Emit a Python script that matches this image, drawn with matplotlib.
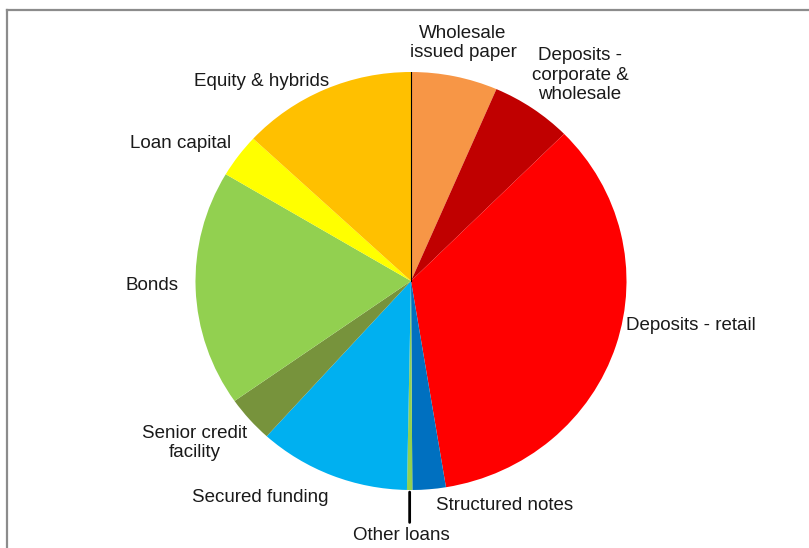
import matplotlib.pyplot as plt
import numpy as np
from matplotlib.lines import Line2D

plt.rcParams['font.family'] = ['Liberation Sans', 'DejaVu Sans']

# funding mix, % of total, clockwise from 12 o'clock
sources = ['Wholesale\nissued paper', 'Deposits -\ncorporate &\nwholesale', 'Deposits - retail',
           'Structured notes', 'Other loans', 'Secured funding', 'Senior credit\nfacility',
           'Bonds', 'Loan capital', 'Equity & hybrids']
shares = [6.5, 6.1, 34.9, 2.5, 0.4, 11.4, 3.6, 18.3, 3.4, 13.1]
colours = ['#F79646', '#C00000', '#FF0000', '#0070C0', '#92D050',
           '#00B0F0', '#77933C', '#92D050', '#FFFF00', '#FFC000']

# label centres in pixels (x, y from top)
label_xy = [(463, 43), (580, 75), (691, 326), (505, 506), (401, 535),
            (260, 497), (195, 443), (152, 285), (181, 143), (262, 81)]

W, H = 809, 548
fig = plt.figure(figsize=(W / 100, H / 100), dpi=100)
cx, cy, rx, ry = 411, 281, 215.5, 209
ax = fig.add_axes([(cx - rx) / W, (H - cy - ry) / H, 2 * rx / W, 2 * ry / H])

ax.pie(shares, colors=colours, startangle=90, counterclock=False,
       wedgeprops=dict(edgecolor='none', linewidth=0))
ax.set_aspect('auto')
ax.set_xlim(-1, 1)
ax.set_ylim(-1, 1)
ax.axis('off')

# thin rule from the centre up to the starting edge
ax.plot([0, 0], [0, 1], color='black', lw=0.8)

# leader for the tiny "Other loans" slice
frac = np.cumsum(shares) / np.sum(shares)
mid = (frac[3] + frac[4]) / 2
ang = np.deg2rad(90 - 360 * mid)
ax.annotate('', xy=(np.cos(ang), np.sin(ang) - 0.01), xytext=(np.cos(ang), -1.155),
            arrowprops=dict(arrowstyle='-', color='black', lw=2, shrinkA=0, shrinkB=0),
            annotation_clip=False)

for name, (px, py) in zip(sources, label_xy):
    fig.text(px / W, 1 - py / H, name, ha='center', va='center', fontsize=13.5,
             color='#1a1a1a', linespacing=1.22)

# chart border (runs off the right and bottom)
fig.add_artist(Line2D([7.5 / W, 7.5 / W], [0, 1 - 9.5 / H], color='#8c8c8c', lw=1.6))
fig.add_artist(Line2D([7.5 / W, 1], [1 - 9.5 / H, 1 - 9.5 / H], color='#8c8c8c', lw=1.6))

fig.savefig('out.png', dpi=100)
